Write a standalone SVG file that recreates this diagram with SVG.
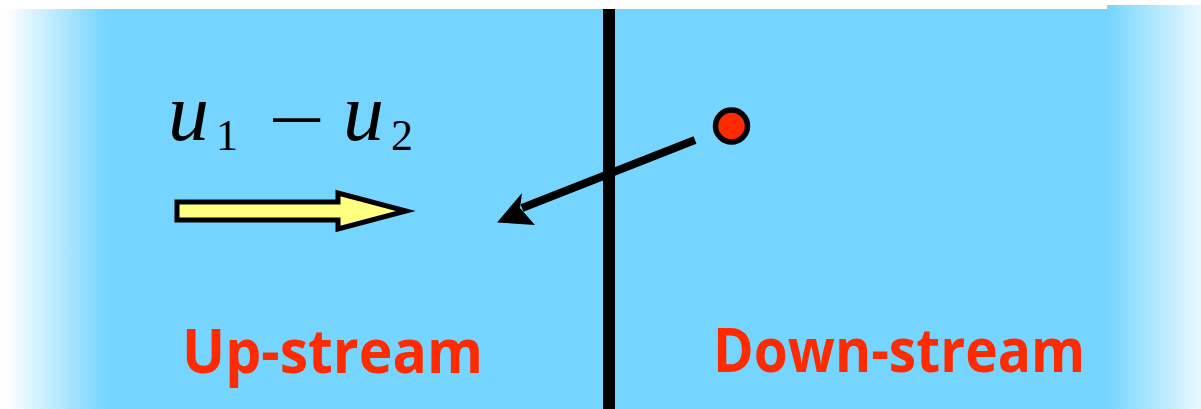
<svg xmlns="http://www.w3.org/2000/svg" width="1201" height="409" viewBox="0 0 1201 409">
  <defs>
    <linearGradient id="gl" x1="6" y1="0" x2="105" y2="0" gradientUnits="userSpaceOnUse">
      <stop offset="0" stop-color="#ffffff"/>
      <stop offset="1" stop-color="#76d5fe"/>
    </linearGradient>
    <linearGradient id="gr" x1="1107" y1="0" x2="1201" y2="0" gradientUnits="userSpaceOnUse">
      <stop offset="0" stop-color="#76d5fe"/>
      <stop offset="1" stop-color="#eaf8ff"/>
    </linearGradient>
    <style>
      .lbl { font-family: "Comic Sans MS", "Open Sans", "Liberation Sans", sans-serif; font-weight: bold; font-size: 60px; fill: #ff2a00; }
      .math { font-family: "Liberation Serif", "DejaVu Serif", serif; fill: #000; }
      .var { font-size: 82px; font-style: italic; }
      .sub { font-size: 44px; }
    </style>
  </defs>
  <rect width="1201" height="409" fill="#ffffff"/>
  <g id="background">
    <rect x="6" y="9" width="1102" height="400" fill="#76d5fe"/>
    <rect x="6" y="9" width="100" height="400" fill="url(#gl)"/>
    <rect x="1107" y="5" width="94" height="404" fill="url(#gr)"/>
  </g>
  <g id="shock">
    <rect x="603" y="9" width="12" height="400" fill="#000"/>
  </g>
  <g id="velocity-label">
    <text class="math var" x="168" y="140">u</text>
    <text class="math sub" x="216" y="150">1</text>
    <text class="math" font-size="78" transform="translate(268,146) scale(1.3,1)">−</text>
    <text class="math var" x="343" y="140">u</text>
    <text class="math sub" x="391" y="150">2</text>
  </g>
  <g id="flow-arrow">
    <polygon points="177,202 338,202 338,193 406,211 338,229 338,220 177,220" fill="#ffff80" stroke="#000" stroke-width="5" stroke-linejoin="miter"/>
  </g>
  <g id="particle">
    <circle cx="731.5" cy="126" r="16" fill="#ff2a00" stroke="#000" stroke-width="5.5"/>
  </g>
  <g id="connectors">
    <line x1="695" y1="140" x2="522" y2="208" stroke="#000" stroke-width="8"/>
    <polygon points="497,222.5 522,193 520,208 535,225" fill="#000"/>
  </g>
  <g id="labels">
    <text class="lbl" x="182" y="373" textLength="301" lengthAdjust="spacingAndGlyphs">Up-stream</text>
    <text class="lbl" x="713" y="372" textLength="372" lengthAdjust="spacingAndGlyphs">Down-stream</text>
  </g>
</svg>
